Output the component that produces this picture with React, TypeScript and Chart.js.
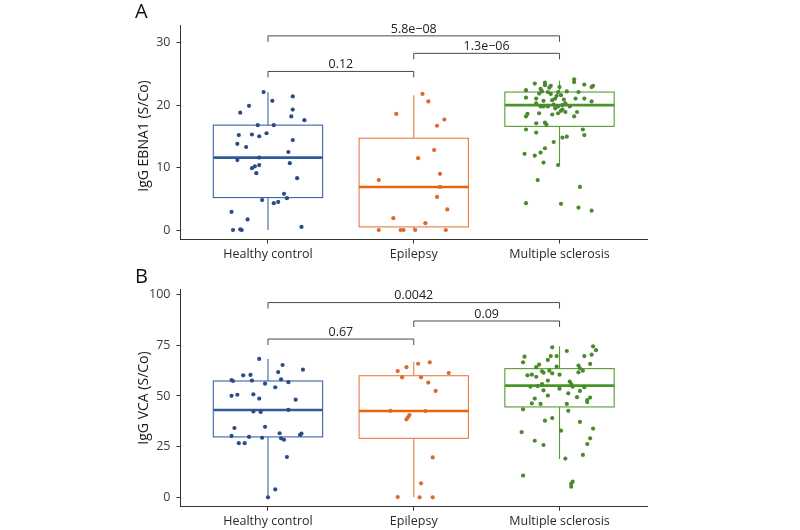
import React, { useEffect, useRef } from "react";
import { Chart, registerables } from "chart.js";
Chart.register(...registerables);

const groups = ["Healthy control", "Epilepsy", "Multiple sclerosis"];
const boxColors = ["#3d63a6", "#ec7a45", "#559c36"];
const medianColors = ["#2f5b9c", "#e8620f", "#4b942a"];
const pointColors = ["#2c4c88", "#dc6a2c", "#4a8a2e"];

// ---------- Panel A : IgG EBNA1 ----------
const ebnaTicks = [0, 10, 20, 30];
const ebnaHealthy = [19.9, 18.8, 20.7, 19.3, 18.2, 17.6, 16.8, 16.8, 15.2, 15.3, 15.0, 15.5, 13.8, 13.3, 14.4, 12.5, 11.2, 11.6, 10.7, 9.9, 10.2, 10.4, 9.1, 8.3, 5.8, 5.1, 4.8, 4.3, 4.5, 2.9, 1.7, 0.0, 0.1, 0.0, 0.5, 22.1, 21.4];
const ebnaHealthyJitter = [-0.13, -0.19, 0.03, 0.17, 0.16, 0.25, -0.07, 0.04, -0.2, -0.11, -0.06, -0.01, -0.21, -0.15, 0.17, 0.14, -0.21, -0.06, 0.15, -0.11, -0.09, -0.06, -0.08, 0.2, 0.11, 0.13, -0.04, 0.04, 0.07, -0.25, -0.14, -0.24, -0.19, -0.18, 0.23, -0.03, 0.17];
const ebnaEpilepsy = [21.8, 20.6, 18.6, 17.7, 16.7, 12.8, 11.5, 8.0, 9.0, 6.9, 5.3, 3.3, 1.9, 1.1, 0, 0, 0, 0, 0];
const ebnaEpilepsyJitter = [0.06, 0.1, -0.12, 0.21, 0.16, 0.14, 0.03, -0.24, 0.18, 0.18, 0.16, 0.23, -0.14, 0.08, -0.24, -0.09, -0.07, 0.01, 0.22];
const ebnaMS = [23.45, 23.6, 23.2, 23.1, 24.15, 23.7, 23.3, 22.9, 23.1, 22.4, 22.6, 22.8, 22.9, 22.2, 22.1, 22.1, 22.2, 22.1, 21.85, 21.8, 21.5, 21.6, 21.05, 21.05, 20.6, 21.2, 21.05, 20.7, 20.8, 21.05, 20.9, 20.3, 19.8, 19.8, 20.1, 19.8, 20.0, 20.3, 19.8, 19.8, 19.5, 19.3, 18.9, 19.1, 18.9, 18.2, 18.6, 18.2, 18.7, 18.5, 18.7, 17.1, 17.2, 16.9, 16.1, 15.6, 16.1, 15.2, 14.95, 14.8, 14.1, 13.1, 12.4, 11.9, 10.8, 12.2, 10.4, 8.0, 6.9, 4.3, 4.2, 3.6, 3.1];
const ebnaMSJitter = [-0.17, -0.1, -0.1, -0.06, 0.1, 0.1, 0.17, 0.22, 0.23, -0.23, -0.13, -0.07, 0.0, -0.12, -0.08, -0.01, 0.05, 0.13, -0.14, -0.06, -0.02, 0.01, 0.11, 0.17, 0.22, -0.23, -0.16, -0.11, -0.05, -0.03, 0.03, -0.16, -0.13, -0.08, -0.04, -0.01, 0.02, 0.04, 0.07, -0.11, -0.03, 0.02, 0.04, 0.01, 0.12, 0.1, -0.22, -0.23, -0.14, -0.05, -0.01, -0.16, -0.1, -0.09, -0.23, -0.16, 0.16, 0.17, 0.05, 0.02, -0.04, -0.1, -0.13, -0.17, -0.11, -0.24, -0.01, -0.15, 0.14, -0.23, 0.01, 0.13, 0.22];
const ebnaQ1 = [5.2, 0.5, 16.6];
const ebnaMedian = [11.6, 6.9, 20.0];
const ebnaQ3 = [16.8, 14.7, 22.1];
const ebnaWhiskerLow = [0, 0, 10.4];
const ebnaWhiskerHigh = [22.1, 21.6, 23.9];
const ebnaPairs = [[1, 2], [2, 3], [1, 3]];
const ebnaPLabels = ["0.12", "1.3e\u221206", "5.8e\u221208"];
const ebnaBracketY = [25.4, 28.3, 31.1];

// ---------- Panel B : IgG VCA ----------
const vcaTicks = [0, 25, 50, 75, 100];
const vcaHealthy = [68.3, 65.3, 63.0, 61.8, 60.2, 60.4, 57.9, 57.4, 57.6, 58.2, 56.1, 56.8, 54.3, 50.1, 50.6, 50.8, 48.7, 48.2, 42.4, 42.1, 43.1, 34.2, 34.8, 30.3, 29.8, 29.4, 31.6, 29.1, 28.4, 30.8, 31.4, 26.7, 26.7, 19.9, 3.9, 0];
const vcaHealthyJitter = [-0.06, 0.1, 0.24, 0.07, -0.17, -0.12, -0.25, -0.24, -0.11, 0.09, -0.02, 0.14, 0.05, -0.25, -0.21, -0.1, -0.06, 0.19, -0.1, -0.05, 0.14, -0.23, -0.02, -0.25, -0.13, -0.04, 0.08, 0.09, 0.11, 0.22, 0.23, -0.2, -0.16, 0.13, 0.05, 0.0];
const vcaEpilepsy = [65.9, 66.6, 64.2, 62.3, 61.3, 59.2, 59.2, 56.6, 52.5, 42.7, 42.6, 40.6, 39.5, 38.5, 19.7, 6.9, 0.1, 0, 0];
const vcaEpilepsyJitter = [0.03, 0.11, -0.05, -0.11, 0.24, -0.08, 0.05, 0.1, 0.15, -0.16, 0.08, -0.03, -0.04, -0.05, 0.13, 0.05, -0.11, 0.04, 0.13];
const vcaMS = [74.0, 74.5, 72.6, 72.2, 69.7, 70.4, 69.4, 66.6, 69.7, 67.8, 69.7, 65.8, 65.5, 64.2, 64.5, 65.0, 61.7, 62.5, 63.7, 62.2, 62.5, 61.2, 60.2, 60.5, 59.5, 61.5, 60.5, 57.6, 57.1, 55.9, 55.9, 54.6, 54.9, 54.3, 54.6, 52.8, 53.6, 52.5, 51.3, 50.2, 49.4, 49.2, 48.0, 48.7, 46.4, 46.1, 47.0, 46.1, 43.4, 42.7, 39.1, 37.8, 37.2, 33.9, 32.9, 32.2, 29.1, 27.9, 26.3, 25.8, 20.9, 19.1, 10.7, 7.7, 6.6, 5.2];
const vcaMSJitter = [-0.05, 0.23, 0.25, 0.05, 0.17, 0.22, -0.24, -0.25, -0.06, -0.08, -0.02, 0.21, -0.14, -0.16, -0.02, 0.13, 0.13, 0.16, 0.14, -0.12, -0.07, -0.05, -0.22, -0.19, -0.16, -0.11, 0.0, -0.08, 0.07, 0.08, -0.12, -0.2, -0.15, 0.17, 0.09, -0.11, 0.0, 0.14, 0.06, -0.08, 0.12, 0.21, 0.19, -0.17, -0.19, -0.13, 0.19, 0.05, -0.25, 0.06, -0.05, -0.1, 0.14, 0.23, 0.01, -0.26, 0.21, -0.17, 0.19, -0.11, 0.16, 0.04, -0.25, 0.09, 0.08, 0.08];
const vcaQ1 = [29.8, 29.1, 44.6];
const vcaMedian = [43.1, 42.6, 55.1];
const vcaQ3 = [57.4, 60.0, 63.5];
const vcaWhiskerLow = [0, 0, 18.9];
const vcaWhiskerHigh = [68.3, 66.9, 74.5];
const vcaPairs = [[1, 2], [2, 3], [1, 3]];
const vcaPLabels = ["0.67", "0.09", "0.0042"];
const vcaBracketY = [78.1, 87.0, 96.1];

const FONT = "'Open Sans', 'Noto Sans', sans-serif";

type PanelCfg = {
  letter: string;
  title: string;
  ticks: number[];
  min: number;
  max: number;
  padTop: number;
  xHeight: number;
  titleY: number;
  values: number[][];
  jitters: number[][];
  q1: number[];
  median: number[];
  q3: number[];
  wLow: number[];
  wHigh: number[];
  pairs: number[][];
  pLabels: string[];
  bracketY: number[];
};

const panels: PanelCfg[] = [
  {
    letter: "A",
    title: "IgG EBNA1 (S/Co)",
    ticks: ebnaTicks,
    min: -1.52,
    max: 32.84,
    padTop: 25,
    xHeight: 25.5,
    titleY: 136,
    values: [ebnaHealthy, ebnaEpilepsy, ebnaMS],
    jitters: [ebnaHealthyJitter, ebnaEpilepsyJitter, ebnaMSJitter],
    q1: ebnaQ1,
    median: ebnaMedian,
    q3: ebnaQ3,
    wLow: ebnaWhiskerLow,
    wHigh: ebnaWhiskerHigh,
    pairs: ebnaPairs,
    pLabels: ebnaPLabels,
    bracketY: ebnaBracketY,
  },
  {
    letter: "B",
    title: "IgG VCA (S/Co)",
    ticks: vcaTicks,
    min: -4.64,
    max: 102.8,
    padTop: 24,
    xHeight: 23.3,
    titleY: 133,
    values: [vcaHealthy, vcaEpilepsy, vcaMS],
    jitters: [vcaHealthyJitter, vcaEpilepsyJitter, vcaMSJitter],
    q1: vcaQ1,
    median: vcaMedian,
    q3: vcaQ3,
    wLow: vcaWhiskerLow,
    wHigh: vcaWhiskerHigh,
    pairs: vcaPairs,
    pLabels: vcaPLabels,
    bracketY: vcaBracketY,
  },
];

const BOX_WIDTH = 0.75;

function makeDecor(cfg: PanelCfg) {
  return {
    id: "decor" + cfg.letter,
    beforeDatasetsDraw(chart: any) {
      const ctx = chart.ctx;
      const xs = chart.scales.x;
      const ys = chart.scales.y;
      ctx.save();
      for (let g = 0; g < 3; g++) {
        const cx = xs.getPixelForValue(g + 1);
        const left = xs.getPixelForValue(g + 1 - BOX_WIDTH / 2);
        const right = xs.getPixelForValue(g + 1 + BOX_WIDTH / 2);
        const yq1 = ys.getPixelForValue(cfg.q1[g]);
        const yq3 = ys.getPixelForValue(cfg.q3[g]);
        const ymed = ys.getPixelForValue(cfg.median[g]);
        const ylo = ys.getPixelForValue(cfg.wLow[g]);
        const yhi = ys.getPixelForValue(cfg.wHigh[g]);
        ctx.strokeStyle = boxColors[g];
        ctx.lineWidth = 1.1;
        ctx.beginPath();
        ctx.moveTo(cx, yq3);
        ctx.lineTo(cx, yhi);
        ctx.moveTo(cx, yq1);
        ctx.lineTo(cx, ylo);
        ctx.stroke();
        ctx.strokeRect(left, yq3, right - left, yq1 - yq3);
        ctx.strokeStyle = medianColors[g];
        ctx.lineWidth = 2.6;
        ctx.beginPath();
        ctx.moveTo(left, ymed);
        ctx.lineTo(right, ymed);
        ctx.stroke();
      }
      ctx.restore();
    },
    afterDraw(chart: any) {
      const ctx = chart.ctx;
      const xs = chart.scales.x;
      const ys = chart.scales.y;
      const area = chart.chartArea;
      ctx.save();
      // brackets
      ctx.strokeStyle = "#4a4a4a";
      ctx.lineWidth = 1;
      ctx.fillStyle = "#222";
      ctx.font = "12.5px " + FONT;
      ctx.textAlign = "center";
      ctx.textBaseline = "bottom";
      cfg.pairs.forEach((p, i) => {
        const x1 = xs.getPixelForValue(p[0]);
        const x2 = xs.getPixelForValue(p[1]);
        const y = ys.getPixelForValue(cfg.bracketY[i]);
        ctx.beginPath();
        ctx.moveTo(x1, y + 6);
        ctx.lineTo(x1, y);
        ctx.lineTo(x2, y);
        ctx.lineTo(x2, y + 6);
        ctx.stroke();
        ctx.fillText(cfg.pLabels[i], (x1 + x2) / 2, y - 0.5);
      });
      // y axis title
      ctx.save();
      ctx.translate(144, cfg.titleY);
      ctx.rotate(-Math.PI / 2);
      ctx.textBaseline = "middle";
      ctx.fillStyle = "#1a1a1a";
      ctx.font = "14px " + FONT;
      ctx.fillText(cfg.title, 0, 0);
      ctx.restore();
      // panel letter
      ctx.fillStyle = "#111";
      ctx.font = "20px " + FONT;
      ctx.textAlign = "left";
      ctx.textBaseline = "middle";
      ctx.fillText(cfg.letter, 135, 12);
      ctx.restore();
    },
  };
}

function Panel({ cfg, top }: { cfg: PanelCfg; top: number }) {
  const ref = useRef<HTMLCanvasElement>(null);
  useEffect(() => {
    const datasets = cfg.values.map((vals, g) => ({
      label: groups[g],
      data: vals.map((v, i) => ({ x: g + 1 + cfg.jitters[g][i], y: v })),
      pointRadius: 2.1,
      pointBorderWidth: 0,
      pointBackgroundColor: pointColors[g],
      backgroundColor: pointColors[g],
      clip: false as any,
    }));
    const chart = new Chart(ref.current as HTMLCanvasElement, {
      type: "scatter",
      data: { datasets },
      options: {
        animation: false,
        responsive: false,
        devicePixelRatio: 1,
        layout: { padding: { left: 0, right: 153, top: cfg.padTop, bottom: 0 } },
        plugins: {
          legend: { display: false },
          tooltip: { enabled: false },
        },
        scales: {
          x: {
            type: "linear",
            min: 0.4,
            max: 3.6,
            afterBuildTicks: (s: any) => {
              s.ticks = groups.map((_, i) => ({ value: i + 1 }));
            },
            afterFit: (s: any) => {
              s.height = cfg.xHeight;
            },
            ticks: {
              autoSkip: false,
              maxRotation: 0,
              padding: 3,
              color: "#2a2a2a",
              font: { family: FONT, size: 12.5 },
              callback: (_v: any, i: number) => groups[i],
            },
            grid: { drawOnChartArea: false, drawTicks: true, tickLength: 4, color: "#333" },
            border: { display: true, color: "#333", width: 1 },
          },
          y: {
            type: "linear",
            min: cfg.min,
            max: cfg.max,
            afterBuildTicks: (s: any) => {
              s.ticks = cfg.ticks.map((v) => ({ value: v }));
            },
            afterFit: (s: any) => {
              s.width = 180.5;
            },
            ticks: {
              padding: 6,
              color: "#3a3a3a",
              font: { family: FONT, size: 12.5 },
              callback: (v: any) => String(v),
            },
            grid: { drawOnChartArea: false, drawTicks: true, tickLength: 4, color: "#333" },
            border: { display: true, color: "#333", width: 1 },
          },
        },
      },
      plugins: [makeDecor(cfg)],
    });
    return () => chart.destroy();
  }, []);
  return (
    <canvas
      ref={ref}
      width={800}
      height={265}
      style={{ position: "absolute", left: 0, top, width: 800, height: 265 }}
    />
  );
}

export default function App() {
  return (
    <div
      style={{
        position: "fixed",
        left: 0,
        top: 0,
        width: 800,
        height: 530,
        background: "#fff",
        overflow: "hidden",
      }}
    >
      <Panel cfg={panels[0]} top={0} />
      <Panel cfg={panels[1]} top={265} />
    </div>
  );
}
